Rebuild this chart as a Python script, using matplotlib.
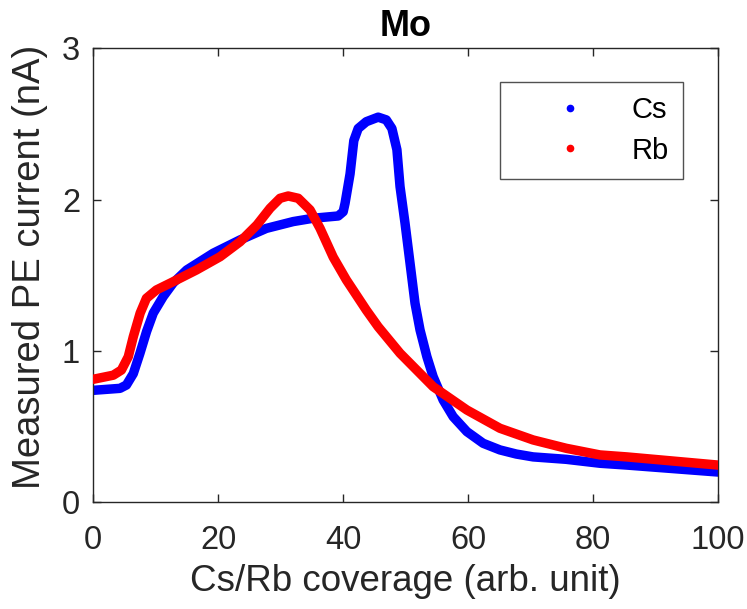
import matplotlib
matplotlib.use("Agg")
import matplotlib.pyplot as plt
from matplotlib.lines import Line2D

plt.rcParams["font.family"] = ["Liberation Sans", "DejaVu Sans"]

# Measured photoemission current vs. alkali coverage on Mo
cs_x = [0, 4.27, 5.3, 6.4, 7.47, 8.54, 9.6, 11.2, 12.8, 14.95, 19.2, 23.5, 27.7,
        32.0, 35.2, 39.2, 40.0, 40.3, 41.1, 41.7, 42.4, 43.7, 45.6, 46.9, 47.8,
        48.6, 49.1, 49.9, 50.7, 51.5, 52.3, 53.4, 54.4, 56.0, 57.6, 59.8, 62.4,
        65.1, 67.7, 70.4, 75.7, 81.1, 85.4, 100]
cs_y = [0.74, 0.753, 0.775, 0.85, 0.985, 1.13, 1.25, 1.36, 1.45, 1.535, 1.646,
        1.734, 1.81, 1.855, 1.877, 1.892, 1.92, 1.976, 2.17, 2.39, 2.47, 2.515,
        2.545, 2.527, 2.47, 2.33, 2.086, 1.844, 1.58, 1.315, 1.139, 0.962, 0.83,
        0.676, 0.566, 0.467, 0.39, 0.346, 0.319, 0.30, 0.284, 0.258, 0.246, 0.20]

rb_x = [0, 3.2, 4.5, 5.6, 6.4, 7.5, 8.5, 10.1, 12.8, 16.5, 20.3, 23.5, 26.2,
        28.3, 29.9, 31.2, 32.8, 34.7, 36.3, 38.4, 40.5, 43.7, 45.6, 49.1, 54.4,
        59.8, 65.1, 70.4, 75.7, 81.1, 85.4, 100]
rb_y = [0.813, 0.84, 0.874, 0.962, 1.094, 1.25, 1.348, 1.403, 1.458, 1.535,
        1.623, 1.722, 1.833, 1.943, 2.009, 2.024, 2.009, 1.932, 1.81, 1.62,
        1.47, 1.27, 1.16, 0.985, 0.764, 0.61, 0.489, 0.412, 0.357, 0.313, 0.30,
        0.246]

series_names = ["Cs", "Rb"]
x_ticks = [0, 20, 40, 60, 80, 100]
y_ticks = [0, 1, 2, 3]

blue = "#0000ff"
red = "#ff0000"
axis_gray = "#262626"

fig = plt.figure(figsize=(7.47, 6.09), dpi=100)
ax = fig.add_axes([0.1249, 0.1752, 0.8363, 0.7455])

ax.plot(cs_x, cs_y, color=blue, lw=6.8, solid_capstyle="round",
        solid_joinstyle="round", zorder=2)
ax.plot(rb_x, rb_y, color=red, lw=6.8, solid_capstyle="round",
        solid_joinstyle="round", zorder=3)

ax.set_xlim(0, 100)
ax.set_ylim(0, 3)
ax.set_xticks(x_ticks)
ax.set_yticks(y_ticks)
ax.tick_params(direction="in", length=6, width=1, colors=axis_gray,
               labelsize=23.5, top=True, right=True)
ax.tick_params(axis="x", pad=16)
ax.tick_params(axis="y", pad=9.5)
for s in ax.spines.values():
    s.set_color(axis_gray)
    s.set_linewidth(1)

ax.set_xlabel("Cs/Rb coverage (arb. unit)", fontsize=26.5, color=axis_gray,
              labelpad=6)
ax.set_ylabel("Measured PE current (nA)", fontsize=27.5, color=axis_gray,
              labelpad=10)
ax.yaxis.label.set_y(0.518)
ax.set_title("Mo", fontsize=26, fontweight="bold", pad=9)

handles = [Line2D([], [], ls="none", marker="o", ms=4.5, color=c)
           for c in (blue, red)]
leg = ax.legend(handles, series_names, loc="upper right",
                bbox_to_anchor=(683 / 747, 1 - 81.7 / 609),
                bbox_transform=fig.transFigure, fontsize=21,
                frameon=True, fancybox=False, edgecolor=axis_gray,
                handlelength=3.8, handletextpad=0.2, borderpad=0.5,
                labelspacing=0.42, borderaxespad=0)
leg.get_frame().set_linewidth(1)

fig.savefig("out.png", dpi=100, facecolor="white")
